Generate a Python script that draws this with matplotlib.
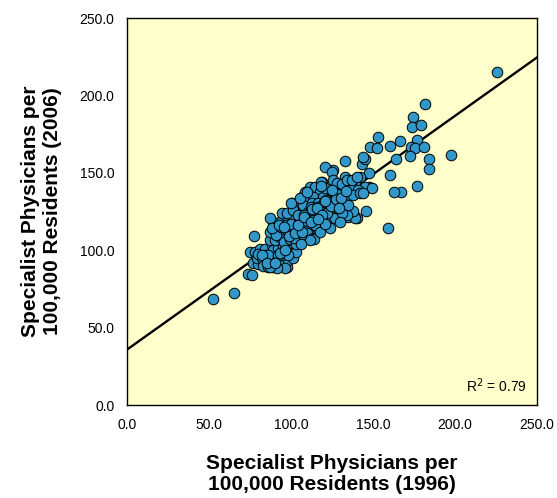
import matplotlib
matplotlib.use("Agg")
import matplotlib.pyplot as plt
import numpy as np

plt.rcParams['font.family'] = ['Liberation Sans', 'DejaVu Sans']

# Specialist physicians per 100,000 residents: 1996 (x) vs 2006 (y)
x_1996 = [
    225.6, 181.9, 174.2, 173.8, 179.1, 166.5, 176.6, 173.0, 175.8, 181.1,
    172.4, 184.0, 197.4, 184.3, 176.6, 166.9, 163.0, 153.2, 148.2, 152.3,
    160.4, 163.8, 132.9, 143.5, 145.1, 160.4, 147.6, 145.5, 125.4, 158.9,
    140.4, 147.7, 120.7, 124.8, 144.1,
    77.4, 74.0, 76.0, 52.6, 65.2,
    75.0, 78.0, 81.1, 84.1, 88.2, 77.0, 80.1, 79.1, 82.1, 85.2,
    88.2, 91.3, 83.1, 86.2, 89.2, 92.3, 97.4, 95.3, 98.4, 101.4,
    94.3, 89.2, 92.3, 95.3, 98.4, 101.4, 100.4, 103.5, 87.2, 90.2,
    93.3, 96.3, 87.2, 90.2, 93.3, 97.4, 101.4, 105.5, 109.6, 110.5,
    114.6, 89.2, 94.3, 97.4, 101.4, 105.5, 108.5, 94.3, 97.4, 100.4,
    104.5, 107.5, 106.5, 111.6, 114.6, 112.6, 109.6, 116.6, 115.7, 101.4,
    104.5, 87.2,
    132.9, 140.1, 142.1, 118.7, 136.0, 139.0, 111.6, 114.6, 126.8, 130.9,
    134.9, 145.1, 149.2, 108.5, 117.7, 123.8, 129.9, 137.0, 141.0, 109.6,
    113.6, 119.7, 125.8, 132.9, 138.0, 142.1, 107.5, 112.6, 116.6, 122.7,
    127.9, 131.9, 110.5, 114.6, 119.7, 124.8, 131.9, 138.0, 108.5, 113.6,
    117.7, 122.7, 126.8, 134.9, 139.0, 109.6, 114.6, 106.5, 111.6,
    144.1, 137.6, 134.0, 130.9, 125.8, 127.9, 130.9, 133.9, 137.0, 140.1,
    118.3, 99.8, 105.5, 109.6, 113.6, 119.7, 109.6, 113.6, 105.5, 96.3,
    91.3, 87.2, 114.0, 117.7, 123.8, 129.9, 111.6,
    84.0, 86.0, 92.0, 95.0, 99.0, 103.0, 96.0, 99.5, 103.0, 106.0,
    91.0, 94.0, 97.0, 100.0, 104.0, 108.0, 112.0, 116.0, 120.0, 118.0,
    122.0, 126.0, 128.0, 121.0, 124.0, 128.0, 135.0, 102.0, 106.0, 98.0,
    80.0, 82.5, 85.5, 90.5, 93.5, 96.5, 99.0, 102.5, 107.0, 110.0,
    113.0, 116.0, 119.0, 121.5, 124.5, 127.5, 130.5, 133.5, 118.5, 121.0,
    88.5, 92.5, 95.5, 104.0, 108.0, 112.5, 116.5, 120.5, 125.0, 129.0,
]
y_2006 = [
    215.1, 194.6, 186.0, 179.8, 180.9, 170.5, 171.2, 166.5, 165.8, 166.7,
    160.9, 159.1, 161.3, 152.3, 141.7, 137.4, 137.8, 173.3, 166.9, 165.8,
    167.5, 158.7, 157.8, 155.7, 158.9, 148.6, 149.7, 125.3, 151.8, 114.1,
    120.6, 140.6, 153.9, 150.7, 160.0,
    109.2, 84.6, 83.8, 68.7, 72.2,
    99.0, 99.0, 100.6, 100.6, 103.4, 91.5, 91.1, 94.8, 94.8, 94.8,
    94.8, 94.8, 89.8, 89.3, 89.3, 90.4, 89.0, 92.6, 93.7, 94.8,
    96.9, 100.1, 101.2, 102.3, 104.5, 102.3, 106.6, 107.7, 106.6, 106.6,
    108.7, 109.8, 111.9, 112.6, 113.0, 113.0, 113.0, 113.0, 108.7, 113.0,
    117.4, 118.4, 119.5, 121.6, 120.6, 118.4, 117.4, 123.8, 123.8, 130.2,
    128.1, 130.2, 134.6, 134.6, 137.8, 124.9, 124.9, 123.8, 117.4, 126.0,
    122.8, 120.8,
    147.5, 146.4, 147.5, 144.3, 144.3, 143.2, 141.0, 141.0, 141.0, 142.1,
    141.0, 141.0, 140.0, 137.8, 137.8, 137.1, 137.8, 140.0, 138.9, 133.5,
    134.6, 134.6, 134.6, 134.6, 135.7, 136.7, 129.2, 130.2, 130.2, 131.3,
    131.3, 130.2, 124.9, 126.0, 127.0, 126.0, 124.9, 124.2, 120.6, 121.6,
    118.4, 120.6, 120.6, 121.6, 120.6, 115.2, 116.3, 110.9, 109.8,
    136.7, 125.5, 122.7, 123.8, 145.3, 143.2, 142.6, 145.3, 145.3, 147.0,
    144.3, 130.8, 133.5, 137.8, 119.5, 123.8, 110.9, 107.7, 104.5, 88.3,
    88.3, 89.3, 107.0, 111.8, 114.3, 118.2, 106.6,
    97.0, 97.0, 97.0, 99.0, 98.0, 99.0, 105.0, 107.0, 104.0, 110.0,
    110.0, 115.0, 116.0, 117.0, 116.0, 123.0, 128.0, 128.0, 131.0, 125.0,
    124.0, 129.0, 136.0, 140.0, 132.0, 127.0, 129.0, 108.0, 104.0, 97.0,
    97.5, 97.0, 92.0, 92.0, 98.0, 100.0, 109.0, 111.0, 111.5, 119.0,
    126.5, 127.5, 122.5, 132.5, 128.5, 133.0, 133.5, 138.5, 141.5, 117.0,
    114.5, 116.0, 115.0, 116.5, 121.5, 118.5, 120.0, 132.0, 139.0, 127.0,
]

trend_intercept = 35.8
trend_slope = 0.755
r_squared_label = "R$^2$ = 0.79"

x_ticks = [0, 50, 100, 150, 200, 250]
y_ticks = [0, 50, 100, 150, 200, 250]

fig = plt.figure(figsize=(5.57, 4.98), dpi=100)
ax = fig.add_axes([0.228, 0.1867, 0.7361, 0.7771])
ax.set_facecolor('#FFFFCC')

ax.scatter(x_1996, y_2006, s=58, c='#3097c8', edgecolors='black',
           linewidths=0.7, zorder=3, clip_on=False)

xl = np.array([0, 250])
ax.plot(xl, trend_intercept + trend_slope * xl, color='black', lw=1.7, zorder=2)

ax.set_xlim(0, 250)
ax.set_ylim(0, 250)
ax.set_xticks(x_ticks)
ax.set_yticks(y_ticks)
ax.set_xticklabels([f"{v:.1f}" for v in x_ticks])
ax.set_yticklabels([f"{v:.1f}" for v in y_ticks])
ax.tick_params(axis='both', length=0, labelsize=10)
ax.tick_params(axis='x', pad=9)
ax.tick_params(axis='y', pad=9)
for sp in ax.spines.values():
    sp.set_linewidth(1.0)
    sp.set_color('black')

ax.set_xlabel("Specialist Physicians per\n100,000 Residents (1996)",
              fontsize=15, fontweight='bold', labelpad=16, linespacing=1.15)
ax.set_ylabel("Specialist Physicians per\n100,000 Residents (2006)",
              fontsize=15, fontweight='bold', labelpad=13, linespacing=1.15)

ax.text(0.975, 0.05, r_squared_label, transform=ax.transAxes,
        ha='right', va='center', fontsize=10)

fig.savefig("out.png", dpi=100)
